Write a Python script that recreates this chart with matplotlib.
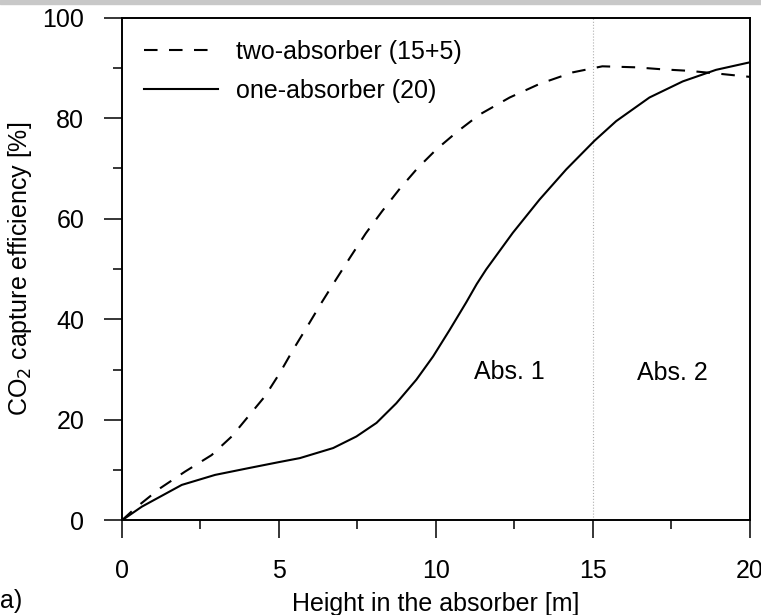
import numpy as np
import matplotlib
matplotlib.use('Agg')
import matplotlib.pyplot as plt
from matplotlib.patches import Rectangle
from matplotlib.ticker import MultipleLocator

plt.rcParams['font.family'] = ['Liberation Sans', 'DejaVu Sans']

# two-absorber (15+5), dashed
h_two = [0, 0.42, 1.22, 2.01, 2.86, 3.5, 4.03, 4.56, 5.03, 5.46, 5.9, 6.36, 6.81, 7.28,
         7.77, 8.29, 8.83, 9.41, 10.02, 10.68, 11.39, 12.35, 13.3, 14.36, 15.3, 16.37,
         17.21, 18.06, 18.9, 20.0]
eff_two = [0, 2.4, 6.4, 9.7, 13.0, 16.7, 20.7, 24.7, 29.3, 34.0, 38.5, 43.3, 47.8, 52.4,
           57.1, 61.5, 65.8, 70.0, 73.8, 77.3, 80.7, 84.1, 86.8, 89.1, 90.3, 90.1,
           89.7, 89.4, 88.9, 88.2]

# one-absorber (20), solid
h_one = [0, 0.64, 1.91, 2.97, 4.03, 5.0, 5.67, 6.73, 7.47, 8.11, 8.74, 9.38, 9.91, 10.44,
         10.97, 11.3, 11.6, 12.45, 13.3, 14.15, 15.05, 15.74, 16.8, 17.86, 18.92, 20.0]
eff_one = [0, 2.75, 7.07, 9.06, 10.4, 11.6, 12.4, 14.4, 16.7, 19.4, 23.3, 28.0, 32.6, 37.9,
           43.4, 47.0, 49.9, 57.2, 63.8, 69.8, 75.5, 79.4, 84.1, 87.3, 89.6, 91.1]

fig = plt.figure(figsize=(7.61, 6.15), dpi=100)
ax = fig.add_axes([0.16, 0.1537, 0.8255, 0.8178])

ax.axvline(15, color='#b0b0b0', lw=0.8, ls=':', zorder=0)

l1, = ax.plot(h_two, eff_two, color='black', lw=1.5, label='two-absorber (15+5)')
l1.set_dashes([6.5, 5.5])
ax.plot(h_one, eff_one, color='black', lw=1.5, label='one-absorber (20)')

ax.set_xlim(0, 20)
ax.set_ylim(0, 100)
ax.xaxis.set_major_locator(MultipleLocator(5))
ax.xaxis.set_minor_locator(MultipleLocator(2.5))
ax.yaxis.set_major_locator(MultipleLocator(20))
ax.yaxis.set_minor_locator(MultipleLocator(10))
ax.tick_params(which='major', direction='out', length=13, width=1.1, labelsize=18, pad=14)
ax.tick_params(which='minor', direction='out', length=6.5, width=1.1)
ax.tick_params(axis='x', which='major', pad=15)
for s in ax.spines.values():
    s.set_linewidth(1.4)

ax.set_xlabel('Height in the absorber [m]', fontsize=18)
ax.set_ylabel('CO$_2$ capture efficiency [%]', fontsize=18)
ax.xaxis.set_label_coords(0.5, -0.143)
ax.yaxis.set_label_coords(-0.14, 0.5)

ax.text(12.35, 29.6, 'Abs. 1', fontsize=18, ha='center', va='center')
ax.text(17.52, 29.3, 'Abs. 2', fontsize=18, ha='center', va='center')

ax.legend(loc='upper left', frameon=False, fontsize=18, handlelength=2.96,
          handletextpad=0.72, borderaxespad=0.5, labelspacing=0.6)

fig.text(0.0, 0.003, 'a)', fontsize=18, ha='left', va='bottom')
fig.patches.append(Rectangle((0, 0.994), 1, 0.006, transform=fig.transFigure,
                             color='#c8c8c8', zorder=0))

fig.savefig('out.png', dpi=100)
